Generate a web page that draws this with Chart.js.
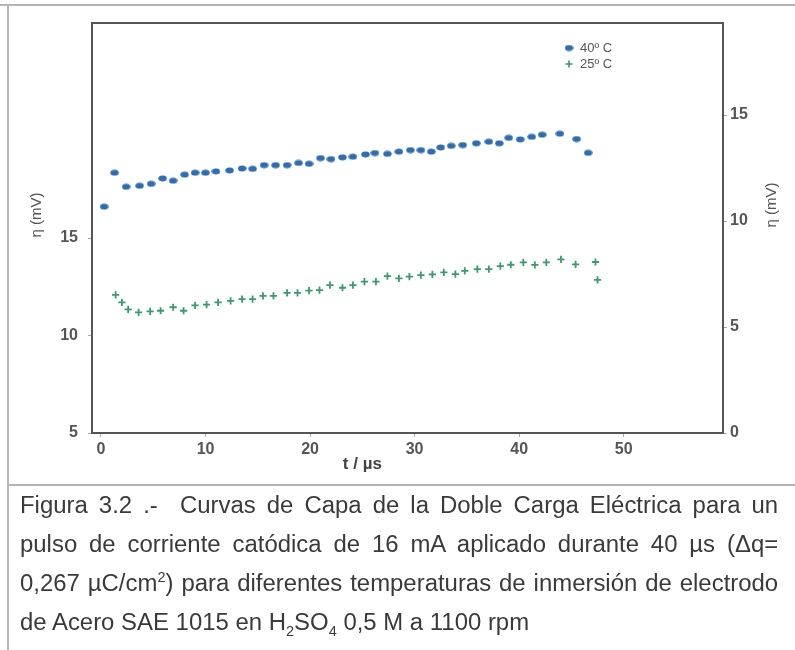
<!DOCTYPE html>
<html lang="es">
<head>
<meta charset="UTF-8" />
<title>Figura 3.2</title>
<script src="https://cdn.jsdelivr.net/npm/chart.js"></script>
<style>
  body { margin: 0; background: #fff; width: 795px; height: 650px; position: relative; overflow: hidden; }
  #chart { position: absolute; left: 0; top: 0; }
  .frame-top { position: absolute; left: 0; top: 4px; width: 795px; border-top: 2px solid #b5b5b5; }
  .frame-left { position: absolute; left: 7px; top: 4px; height: 646px; border-left: 2px solid #b5b5b5; }
  .frame-sep { position: absolute; left: 7px; top: 484px; width: 788px; border-top: 2px solid #b5b5b5; }
  .caption {
    position: absolute; left: 20px; top: 486px;
    font-family: "Liberation Sans", Arial, sans-serif;
    font-size: 23px; line-height: 39px; color: #3a3a3a;
  }
  .caption .ln {
    display: block; white-space: nowrap; width: 729px;
    transform: scaleX(1.04); transform-origin: 0 0;
    text-align: justify; text-align-last: justify;
  }
  .caption .ln.last { text-align-last: left; }
  .caption sub, .caption sup { font-size: 14px; line-height: 0; }
</style>
</head>
<body>
  <canvas id="chart" width="795" height="482"></canvas>
  <div class="frame-top"></div>
  <div class="frame-left"></div>
  <div class="frame-sep"></div>
  <div class="caption">
    <span class="ln">Figura 3.2 .-&nbsp; Curvas de Capa de la Doble Carga Eléctrica para un</span>
    <span class="ln">pulso de corriente catódica de 16 mA aplicado durante 40 µs (Δq=</span>
    <span class="ln">0,267 µC/cm<sup>2</sup>) para diferentes temperaturas de inmersión de electrodo</span>
    <span class="ln last">de Acero SAE 1015 en H<sub>2</sub>SO<sub>4</sub> 0,5 M a 1100 rpm</span>
  </div>

<script>
  // datos (t en µs, η en mV)
  const time40 = [0.3, 1.3, 2.4, 3.7, 4.8, 5.9, 6.9, 8.0, 9.0, 10.0, 11.0, 12.3, 13.5, 14.5, 15.6,
    16.7, 17.8, 18.9, 19.9, 21.0, 22.0, 23.1, 24.1, 25.3, 26.2, 27.4, 28.5, 29.6, 30.6, 31.6,
    32.5, 33.5, 34.6, 35.9, 37.1, 38.1, 39.0, 40.1, 41.2, 42.2, 43.9, 45.5, 46.6];
  const eta40 = [16.61, 18.35, 17.63, 17.68, 17.78, 18.06, 17.94, 18.25, 18.35, 18.35, 18.42, 18.47,
    18.57, 18.55, 18.74, 18.74, 18.74, 18.85, 18.81, 19.10, 19.05, 19.14, 19.17, 19.29, 19.36,
    19.32, 19.43, 19.51, 19.51, 19.43, 19.65, 19.73, 19.77, 19.86, 19.94, 19.86, 20.14, 20.06,
    20.19, 20.30, 20.35, 20.08, 19.37];

  const time25 = [1.4, 2.0, 2.6, 3.6, 4.7, 5.7, 6.9, 7.9, 9.0, 10.1, 11.2, 12.4, 13.5, 14.5, 15.5,
    16.5, 17.8, 18.8, 19.9, 20.9, 21.9, 23.1, 24.1, 25.2, 26.3, 27.4, 28.5, 29.5, 30.6, 31.7,
    32.8, 33.9, 34.8, 36.0, 37.1, 38.2, 39.2, 40.4, 41.5, 42.6, 44.0, 45.4, 47.3, 47.5];
  const eta25 = [12.08, 11.70, 11.34, 11.19, 11.24, 11.27, 11.45, 11.27, 11.55, 11.58, 11.70, 11.78,
    11.87, 11.87, 12.03, 12.03, 12.19, 12.19, 12.30, 12.33, 12.59, 12.45, 12.59, 12.76, 12.76,
    13.05, 12.93, 13.02, 13.10, 13.14, 13.24, 13.15, 13.32, 13.41, 13.41, 13.56, 13.63, 13.75,
    13.62, 13.75, 13.91, 13.65, 13.77, 12.85];

  const seriesNames = ["40º C", "25º C"];
  const leftTicks = [5, 10, 15];
  const rightTicks = [0, 5, 10, 15];
  const xTicks = [0, 10, 20, 30, 40, 50];

  const blue = "#2f6db0";
  const green = "#3a9c6c";
  const axisGray = "#555";

  // marcador elíptico para la serie de 40 ºC
  const dot = document.createElement("canvas");
  dot.width = 9; dot.height = 7;
  const dctx = dot.getContext("2d");
  dctx.fillStyle = blue;
  dctx.beginPath();
  dctx.ellipse(4.5, 3.5, 4.2, 3, 0, 0, Math.PI * 2);
  dctx.fill();

  const toPoints = (xs, ys) => xs.map((x, i) => ({ x: x, y: ys[i] }));

  const tickFont = { family: "Liberation Sans, Arial, sans-serif", size: 16, weight: "bold" };

  // marco, títulos de ejes y leyenda
  const extras = {
    id: "extras",
    afterDraw(chart) {
      const c = chart.ctx;
      const a = chart.chartArea;
      c.save();
      c.strokeStyle = axisGray;
      c.lineWidth = 2;
      c.strokeRect(a.left, a.top, a.right - a.left, a.bottom - a.top);

      c.fillStyle = "#444";
      c.textAlign = "center";
      c.textBaseline = "middle";
      c.font = "bold 17px Liberation Sans, Arial, sans-serif";
      c.fillText("t / µs", chart.scales.x.getPixelForValue(25), a.bottom + 31);

      c.fillStyle = "#555";
      c.font = "15px Liberation Sans, Arial, sans-serif";
      const mid = (a.top + a.bottom) / 2;
      [[a.left - 55, mid - 13], [a.right + 49, mid - 23]].forEach(([tx, ty]) => {
        c.save();
        c.translate(tx, ty);
        c.rotate(-Math.PI / 2);
        c.fillText("η (mV)", 0, 0);
        c.restore();
      });

      // leyenda
      const lx = a.right - 154, ly = a.top + 25;
      c.textAlign = "left";
      c.font = "13px Liberation Sans, Arial, sans-serif";
      c.fillStyle = "#555";
      c.drawImage(dot, lx - 4.5, ly - 3.5);
      c.fillText(seriesNames[0], lx + 11, ly);
      c.strokeStyle = green;
      c.lineWidth = 1.6;
      c.beginPath();
      c.moveTo(lx - 3.5, ly + 16); c.lineTo(lx + 3.5, ly + 16);
      c.moveTo(lx, ly + 12.5); c.lineTo(lx, ly + 19.5);
      c.stroke();
      c.fillText(seriesNames[1], lx + 11, ly + 16);
      c.restore();
    }
  };

  new Chart(document.getElementById("chart"), {
    type: "scatter",
    data: {
      datasets: [
        {
          label: seriesNames[0],
          data: toPoints(time40, eta40),
          pointStyle: dot,
          yAxisID: "y",
        },
        {
          label: seriesNames[1],
          data: toPoints(time25, eta25),
          pointStyle: "cross",
          pointRadius: 3.6,
          pointBorderWidth: 1.8,
          borderColor: green,
          backgroundColor: green,
          yAxisID: "y",
        },
      ],
    },
    options: {
      responsive: false,
      devicePixelRatio: 1,
      animation: false,
      layout: { padding: { top: 23, left: 0, right: 0, bottom: 0 } },
      plugins: { legend: { display: false }, tooltip: { enabled: false } },
      scales: {
        x: {
          type: "linear",
          min: -0.86,
          max: 59.5,
          afterBuildTicks: (axis) => { axis.ticks = xTicks.map((v) => ({ value: v })); },
          afterFit: (axis) => { axis.height = 49; },
          ticks: { color: axisGray, font: tickFont, padding: 3 },
          grid: { drawOnChartArea: false, tickLength: 4, color: "#aaa" },
          border: { display: false },
        },
        y: {
          position: "left",
          min: 5,
          max: 26.03,
          afterBuildTicks: (axis) => { axis.ticks = leftTicks.map((v) => ({ value: v })); },
          afterFit: (axis) => { axis.width = 92; },
          ticks: { color: axisGray, font: tickFont, padding: 10 },
          grid: { drawOnChartArea: false, tickLength: 4, color: "#aaa" },
          border: { display: false },
        },
        y2: {
          position: "right",
          min: 0,
          max: 19.34,
          afterBuildTicks: (axis) => { axis.ticks = rightTicks.map((v) => ({ value: v })); },
          afterFit: (axis) => { axis.width = 72; },
          ticks: { color: axisGray, font: tickFont, padding: 3 },
          grid: { drawOnChartArea: false, tickLength: 4, color: "#aaa" },
          border: { display: false },
        },
      },
    },
    plugins: [extras],
  });
</script>
</body>
</html>
